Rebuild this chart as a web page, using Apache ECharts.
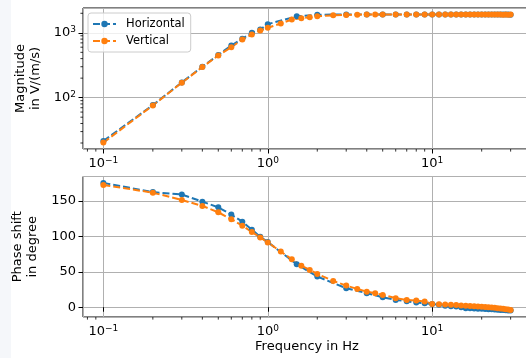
<!DOCTYPE html>
<html><head><meta charset="utf-8">
<script src="https://cdn.jsdelivr.net/npm/echarts@6/dist/echarts.min.js"></script>
<style>html,body{margin:0;padding:0;background:#fff}#c{width:526px;height:358px}</style>
</head><body><div id="c"></div>
<script>
// ---- data ----
const freqH = [0.1,0.2,0.3,0.4,0.5,0.6,0.7,0.8,0.9,1.0,1.5,2,3,4,5,6,7,8,9,10,11,12,13,14,15,16,17,18,19,20,21,22,23,24,25,26,27,28,29,30];
const magH = [21.5,77,172,300,455,638,809,1000,1120,1360,1800,1900,1915,1918,1920,1922,1920,1922,1920,1922,1918,1920,1915,1918,1920,1916,1918,1915,1920,1917,1915,1918,1914,1916,1912,1915,1913,1910,1912,1905];
const phaseH = [175.5,162.5,159,149,141,130.7,120.8,109.5,99.5,92,60.7,43.2,26.8,19.8,14.1,10.3,8.5,6.5,5.6,4.5,3.5,2,1.5,1,0,-1.4,-1.5,-1.8,-2,-2.2,-2.5,-2.8,-3,-3.2,-3.5,-3.8,-4,-4.3,-4.5,-4.8];
const freqV = [0.1,0.2,0.3,0.4,0.5,0.6,0.7,0.8,0.9,1.0,1.2,1.4,1.6,1.8,2.0,2.5,3,3.5,4,4.5,5,6,7,8,9,10,11,12,13,14,15,16,17,18,19,20,21,22,23,24,25,26,27,28,29,30];
const magV = [20.3,76,170,296,448,600,789,942,1085,1194,1390,1602,1678,1738,1800,1860,1890,1905,1910,1912,1912,1915,1912,1915,1912,1915,1912,1914,1910,1912,1915,1912,1910,1913,1911,1912,1910,1912,1909,1911,1908,1910,1907,1909,1906,1908];
const phaseV = [172.6,161.7,151.4,143,134,124.2,115,106.2,98.5,91.5,78.5,67.7,58.7,52.6,47,37.1,30.5,25.8,22,19.8,17.4,12.7,10.3,9.3,8.2,4.7,4.2,3.8,3.4,3,2.5,2,1.6,1.2,0.9,0.6,0.2,-0.2,-0.5,-0.9,-1.3,-1.7,-2.3,-2.8,-3.3,-3.8];
const seriesNames = ['Horizontal','Vertical'];
const xTickValues = [0.1,1,10];
const magTickValues = [100,1000];
const phaseTickValues = [0,50,100,150];
const xLabel = 'Frequency in Hz';
const magLabel = 'Magnitude\nin V/(m/s)';
const phaseLabel = 'Phase shift\nin degree';

// ---- styling / layout ----
const FONT = 'DejaVu Sans';
const C_BLUE = '#1f77b4', C_ORANGE = '#ff7f0e';
const L = 83, R = -5, T0 = 8, H0 = 141, T1 = 176.5, H1 = 140.5;

function logPad(v){const l=v.map(Math.log10);const a=Math.min(...l),b=Math.max(...l),p=(b-a)*0.05;return [Math.pow(10,a-p),Math.pow(10,b+p)];}
function linPad(v){const a=Math.min(...v),b=Math.max(...v),p=(b-a)*0.05;return [a-p,b+p];}
const xr = logPad(freqH.concat(freqV));
const yr0 = logPad(magH.concat(magV));
const yr1 = linPad(phaseH.concat(phaseV));

function near(v, list){return list.some(t=>Math.abs(v-t)<=Math.abs(t)*1e-6+1e-9);}
function powLabel(list){return function(v){
  if(!near(v,list)) return '';
  const e=Math.round(Math.log10(v));
  return '{b|10}{s|'+(e<0?'\u2212'+(-e):String(e))+'}';
};}
const rich = {b:{fontSize:13,fontFamily:FONT,color:'#000'}, s:{fontSize:9,fontFamily:FONT,color:'#000',padding:[0,0,7,0]}};

function xAxis(gi){return {type:'log', gridIndex:gi, min:xr[0], max:xr[1],
  axisLine:{show:false}, axisTick:{show:true,length:4.5,lineStyle:{color:'#000',width:1}},
  splitLine:{show:true,lineStyle:{color:'#b0b0b0',width:1}},
  axisLabel:{formatter:powLabel(xTickValues), rich:rich, margin:7, showMinLabel:false, showMaxLabel:false},
  name: gi===1?xLabel:'', nameLocation:'middle', nameGap:23,
  nameTextStyle:{fontFamily:FONT,fontSize:13,color:'#000'}};}

const option = {
  animation:false,
  backgroundColor:'#fff',
  textStyle:{fontFamily:FONT},
  grid:[
    {left:L,right:R,top:T0,height:H0,show:true,borderColor:'#000',borderWidth:1,backgroundColor:'transparent',outerBoundsMode:'none'},
    {left:L,right:R,top:T1,height:H1,show:true,borderColor:'#000',borderWidth:1,backgroundColor:'transparent',outerBoundsMode:'none'}
  ],
  xAxis:[xAxis(0), xAxis(1)],
  yAxis:[
    {type:'log', gridIndex:0, min:yr0[0], max:yr0[1],
     axisLine:{show:false}, axisTick:{show:true,length:4.5,lineStyle:{color:'#000',width:1}},
     splitLine:{show:true,lineStyle:{color:'#b0b0b0',width:1}},
     axisLabel:{formatter:powLabel(magTickValues), rich:rich, margin:7, showMinLabel:false, showMaxLabel:false},
     name:magLabel, nameLocation:'middle', nameRotate:90, nameGap:34,
     nameTextStyle:{fontFamily:FONT,fontSize:13,color:'#000',lineHeight:15,align:'center'}},
    {type:'value', gridIndex:1, min:yr1[0], max:yr1[1], splitNumber:4,
     axisLine:{show:false}, axisTick:{show:true,length:4.5,lineStyle:{color:'#000',width:1}},
     splitLine:{show:true,lineStyle:{color:'#b0b0b0',width:1}},
     axisLabel:{formatter:function(v){return near(v,phaseTickValues)?String(v):'';}, fontFamily:FONT, fontSize:13, color:'#000', margin:7, showMinLabel:false, showMaxLabel:false},
     name:phaseLabel, nameLocation:'middle', nameRotate:90, nameGap:34,
     nameTextStyle:{fontFamily:FONT,fontSize:13,color:'#000',lineHeight:15,align:'center'}}
  ],
  legend:{show:true, data:seriesNames, orient:'vertical', left:88, top:13,
    padding:[5,6,5,4], itemGap:5, itemWidth:23, itemHeight:8,
    backgroundColor:'rgba(255,255,255,0.8)', borderColor:'#cccccc', borderWidth:1, borderRadius:3,
    textStyle:{fontFamily:FONT,fontSize:11.5,color:'#000',padding:[0,0,0,5]}},
  series:[]
};
function mk(name,color,xs,ys,gi){
  return {type:'line', name:name, xAxisIndex:gi, yAxisIndex:gi,
    data:xs.map((x,i)=>[x,ys[i]]), symbol:'circle', symbolSize:6, showSymbol:true,
    lineStyle:{color:color,width:2,type:[7,3]}, itemStyle:{color:color,borderWidth:0},
    emphasis:{disabled:true}, silent:true, clip:false};
}
option.series.push(mk(seriesNames[0],C_BLUE,freqH,magH,0));
option.series.push(mk(seriesNames[1],C_ORANGE,freqV,magV,0));
option.series.push(mk(seriesNames[0],C_BLUE,freqH,phaseH,1));
option.series.push(mk(seriesNames[1],C_ORANGE,freqV,phaseV,1));

const chart = echarts.init(document.getElementById('c'), null, {renderer:'canvas'});
chart.setOption(option);

// minor ticks (matplotlib-style 2..9 x 10^n) placed through the axes' own scales
const gfx = [{id:'strip',type:'rect',shape:{x:0,y:0,width:11,height:358},style:{fill:'#f5f7fa'},silent:true,z:-10}];
function minorVals(r){const out=[];for(let d=-3;d<=4;d++)for(let m=2;m<=9;m++){const v=m*Math.pow(10,d);if(v>r[0]&&v<r[1])out.push(v);}return out;}
const mx = minorVals(xr), my = minorVals(yr0);
[0,1].forEach(gi=>{
  const yb = chart.convertToPixel({yAxisIndex:gi}, gi===0?yr0[0]:yr1[0]);
  mx.forEach((v,k)=>{const x=chart.convertToPixel({xAxisIndex:gi}, v);
    gfx.push({id:'mx'+gi+'_'+k,type:'line',shape:{x1:x,y1:yb,x2:x,y2:yb+2.6},style:{stroke:'#000',lineWidth:0.8},silent:true});});
});
const xl = chart.convertToPixel({xAxisIndex:0}, xr[0]);
my.forEach((v,k)=>{const y=chart.convertToPixel({yAxisIndex:0}, v);
  gfx.push({id:'my'+k,type:'line',shape:{x1:xl,y1:y,x2:xl-2.6,y2:y},style:{stroke:'#000',lineWidth:0.8},silent:true});});
chart.setOption({graphic:gfx});
</script>
</body></html>
